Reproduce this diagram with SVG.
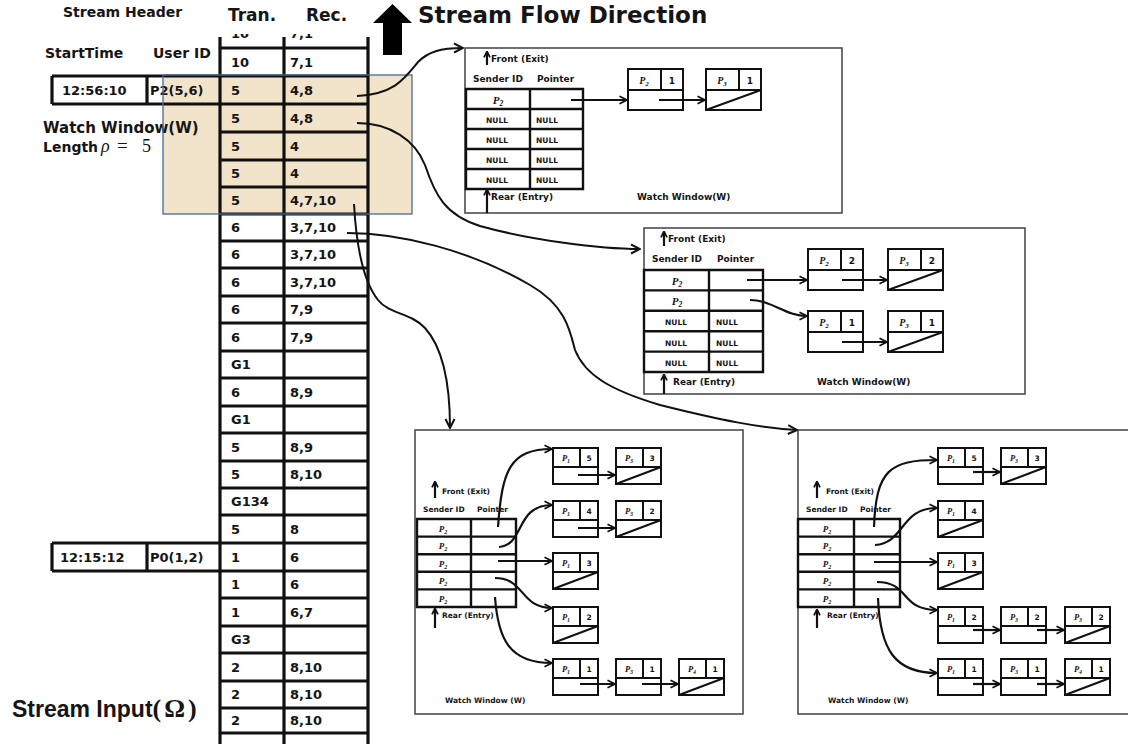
<svg xmlns="http://www.w3.org/2000/svg" width="1128" height="744" viewBox="0 0 1128 744">
<defs>
<style>
text{font-family:"DejaVu Sans","Liberation Sans",sans-serif;font-weight:bold;fill:#151515}
.c{font-size:13px}
.pl{font-size:9px}
.ps{font-size:7.5px}
.nl{font-size:7.5px}
.pm{font-family:"Liberation Serif",serif;font-style:italic;font-weight:bold}
.tl{stroke:#111;stroke-width:3.2;fill:none}
.pan{fill:#fff;stroke:#4d4d4d;stroke-width:1.6}
.tb{stroke:#111;stroke-width:2.4;fill:none}
.nd{fill:#fff;stroke:#111;stroke-width:2}
.ndl{fill:none;stroke:#111;stroke-width:2}
.cn{fill:none;stroke:#111;stroke-width:2}
.pa{fill:none;stroke:#111;stroke-width:2.2}
</style>
<marker id="am" viewBox="0 0 12 12" refX="11" refY="6" markerWidth="12" markerHeight="12" markerUnits="userSpaceOnUse" orient="auto"><path d="M2,1.5 L11,6 L2,10.5" fill="none" stroke="#111" stroke-width="2"/></marker>
<marker id="ap" viewBox="0 0 12 12" refX="11" refY="6" markerWidth="10" markerHeight="10" markerUnits="userSpaceOnUse" orient="auto"><path d="M2,1.5 L11,6 L2,10.5" fill="none" stroke="#111" stroke-width="2.2"/></marker>
<marker id="au" viewBox="0 0 12 12" refX="10" refY="6" markerWidth="8" markerHeight="8" markerUnits="userSpaceOnUse" orient="auto"><path d="M2,1.5 L11,6 L2,10.5" fill="none" stroke="#111" stroke-width="2.6"/></marker>
<g id="nL"><rect class="nd" width="55" height="41"/><path class="ndl" d="M0,21H55M33,0V21"/></g>
<g id="nLx"><use href="#nL"/><path class="ndl" d="M0,41L55,21"/></g>
<g id="nS"><rect class="nd" width="45" height="36"/><path class="ndl" d="M0,19H45M27,0V19"/></g>
<g id="nSx"><use href="#nS"/><path class="ndl" d="M0,36L45,19"/></g>
<clipPath id="topclip"><rect x="220" y="34" width="150" height="14"/></clipPath>
</defs>
<rect width="1128" height="744" fill="#fff"/>
<rect id="watch-fill" x="163" y="75" width="249" height="139" fill="#f2e4cb"/>

<!-- headers -->
<g id="headers">
<text x="63" y="17" style="font-size:14px">Stream Header</text>
<text x="228" y="21" style="font-size:17px">Tran.</text>
<text x="306" y="21" style="font-size:17px">Rec.</text>
<path d="M392.5,4 L412,23 L402,23 L402,55 L383,55 L383,23 L373,23 Z" fill="#000"/>
<text x="418" y="23" style="font-size:23px">Stream Flow Direction</text>
<text x="45" y="58" style="font-size:14px">StartTime</text>
<text x="153" y="58" style="font-size:14px">User ID</text>
<text x="43" y="133" style="font-size:15px">Watch Window(W)</text>
<text x="43" y="152" style="font-size:14px">Length<tspan x="101" style="font-family:'Liberation Serif',serif;font-style:italic;font-weight:normal;font-size:18px">ρ</tspan><tspan x="117" style="font-family:'Liberation Serif',serif;font-weight:normal;font-size:19px">=</tspan><tspan x="142" style="font-family:'Liberation Serif',serif;font-weight:normal;font-size:18px">5</tspan></text>
<text x="12" y="717" style="font-family:'Liberation Sans',sans-serif;font-size:23px">Stream Input<tspan style="font-family:'Liberation Serif',serif;font-size:26px;letter-spacing:3px">(Ω)</tspan></text>
</g>

<!-- stream table -->
<g id="stream">
<path class="tl" d="M220,37V744M284,37V744M368,37V744
M220,48H368M220,76H368M220,104H368M220,132H368M220,160H368M220,187H368M220,214H368M220,241H368M220,268H368M220,296H368M220,323H368M220,351H368M220,378H368M220,406H368M220,433H368M220,461H368M220,488H368M220,515H368M220,543H368M220,571H368M220,598H368M220,626H368M220,653H368M220,681H368M220,708H368M220,733H368"/>
<g clip-path="url(#topclip)"><text class="c" x="231" y="38">10</text><text class="c" x="290" y="38">7,1</text></g>
<text class="c" x="231" y="66.7">10</text><text class="c" x="290" y="66.7">7,1</text>
<text class="c" x="231" y="94.7">5</text><text class="c" x="290" y="94.7">4,8</text>
<text class="c" x="231" y="122.7">5</text><text class="c" x="290" y="122.7">4,8</text>
<text class="c" x="231" y="150.7">5</text><text class="c" x="290" y="150.7">4</text>
<text class="c" x="231" y="178.2">5</text><text class="c" x="290" y="178.2">4</text>
<text class="c" x="231" y="205.2">5</text><text class="c" x="290" y="205.2">4,7,10</text>
<text class="c" x="231" y="232.2">6</text><text class="c" x="290" y="232.2">3,7,10</text>
<text class="c" x="231" y="259.2">6</text><text class="c" x="290" y="259.2">3,7,10</text>
<text class="c" x="231" y="286.7">6</text><text class="c" x="290" y="286.7">3,7,10</text>
<text class="c" x="231" y="314.2">6</text><text class="c" x="290" y="314.2">7,9</text>
<text class="c" x="231" y="341.7">6</text><text class="c" x="290" y="341.7">7,9</text>
<text class="c" x="231" y="369.2">G1</text>
<text class="c" x="231" y="396.7">6</text><text class="c" x="290" y="396.7">8,9</text>
<text class="c" x="231" y="424.2">G1</text>
<text class="c" x="231" y="451.7">5</text><text class="c" x="290" y="451.7">8,9</text>
<text class="c" x="231" y="479.2">5</text><text class="c" x="290" y="479.2">8,10</text>
<text class="c" x="231" y="506.2">G134</text>
<text class="c" x="231" y="533.7">5</text><text class="c" x="290" y="533.7">8</text>
<text class="c" x="231" y="561.7">1</text><text class="c" x="290" y="561.7">6</text>
<text class="c" x="231" y="589.2">1</text><text class="c" x="290" y="589.2">6</text>
<text class="c" x="231" y="616.7">1</text><text class="c" x="290" y="616.7">6,7</text>
<text class="c" x="231" y="644.2">G3</text>
<text class="c" x="231" y="671.7">2</text><text class="c" x="290" y="671.7">8,10</text>
<text class="c" x="231" y="699.2">2</text><text class="c" x="290" y="699.2">8,10</text>
<text class="c" x="231" y="725.2">2</text><text class="c" x="290" y="725.2">8,10</text>
</g>
<g id="header-P2">
<path class="tl" d="M52,76H220M52,104H220M52,76V104M147,76V104"/>
<text class="c" x="62" y="94.7">12:56:10</text>
<text class="c" x="150" y="94.7">P2(5,6)</text>
</g>
<g id="header-P0">
<path class="tl" d="M52,543H220M52,571H220M52,543V571M147,543V571"/>
<text class="c" x="60" y="561.7">12:15:12</text>
<text class="c" x="150" y="561.7">P0(1,2)</text>
</g>
<rect id="watch-window" x="163" y="75" width="249" height="139" fill="none" stroke="#4a6a94" stroke-width="1.3"/>

<!-- panel 1 -->
<g id="panel1">
<rect class="pan" x="465" y="48" width="377" height="165"/>
<text class="pl" x="491" y="62">Front (Exit)</text>
<text class="pl" x="473" y="82">Sender ID</text>
<text class="pl" x="537" y="82">Pointer</text>
<path class="tb" d="M466,89H583V189H466Z M530,89V189 M466,109H583 M466,129H583 M466,149H583 M466,169H583"/>
<text class="pm" x="498" y="103.5" text-anchor="middle" style="font-size:11px">P<tspan style="font-size:7.5px" dy="2">2</tspan></text>
<text class="nl" x="497" y="122.5" text-anchor="middle">NULL</text><text class="nl" x="547" y="122.5" text-anchor="middle">NULL</text>
<text class="nl" x="497" y="142.5" text-anchor="middle">NULL</text><text class="nl" x="547" y="142.5" text-anchor="middle">NULL</text>
<text class="nl" x="497" y="162.5" text-anchor="middle">NULL</text><text class="nl" x="547" y="162.5" text-anchor="middle">NULL</text>
<text class="nl" x="497" y="182.5" text-anchor="middle">NULL</text><text class="nl" x="547" y="182.5" text-anchor="middle">NULL</text>
<text class="pl" x="491" y="200">Rear (Entry)</text>
<text class="pl" x="637" y="200">Watch Window(W)</text>
</g>
<g id="p1-n1"><use href="#nL" x="628" y="69"/><text class="pm" x="644" y="84" text-anchor="middle" style="font-size:10px">P<tspan style="font-size:7px" dy="2">2</tspan></text><text x="672" y="84" text-anchor="middle" style="font-size:9px">1</text></g>
<g id="p1-n2"><use href="#nLx" x="706" y="69"/><text class="pm" x="722" y="84" text-anchor="middle" style="font-size:10px">P<tspan style="font-size:7px" dy="2">3</tspan></text><text x="750" y="84" text-anchor="middle" style="font-size:9px">1</text></g>

<!-- panel 2 -->
<g id="panel2">
<rect class="pan" x="644" y="228" width="381" height="166"/>
<text class="pl" x="668" y="242">Front (Exit)</text>
<text class="pl" x="652" y="262">Sender ID</text>
<text class="pl" x="717" y="262">Pointer</text>
<path class="tb" d="M644,270H763V372H644Z M709,270V372 M644,290.4H763 M644,310.8H763 M644,331.2H763 M644,351.6H763"/>
<text class="pm" x="677" y="284.5" text-anchor="middle" style="font-size:11px">P<tspan style="font-size:7.5px" dy="2">2</tspan></text>
<text class="pm" x="677" y="305" text-anchor="middle" style="font-size:11px">P<tspan style="font-size:7.5px" dy="2">2</tspan></text>
<text class="nl" x="676" y="325.3" text-anchor="middle">NULL</text><text class="nl" x="727" y="325.3" text-anchor="middle">NULL</text>
<text class="nl" x="676" y="345.7" text-anchor="middle">NULL</text><text class="nl" x="727" y="345.7" text-anchor="middle">NULL</text>
<text class="nl" x="676" y="366.1" text-anchor="middle">NULL</text><text class="nl" x="727" y="366.1" text-anchor="middle">NULL</text>
<text class="pl" x="673" y="385">Rear (Entry)</text>
<text class="pl" x="817" y="385">Watch Window(W)</text>
</g>
<g id="p2-a1"><use href="#nL" x="808" y="249"/><text class="pm" x="824" y="264" text-anchor="middle" style="font-size:10px">P<tspan style="font-size:7px" dy="2">2</tspan></text><text x="852" y="264" text-anchor="middle" style="font-size:9px">2</text></g>
<g id="p2-a2"><use href="#nLx" x="888" y="249"/><text class="pm" x="904" y="264" text-anchor="middle" style="font-size:10px">P<tspan style="font-size:7px" dy="2">3</tspan></text><text x="932" y="264" text-anchor="middle" style="font-size:9px">2</text></g>
<g id="p2-b1"><use href="#nL" x="808" y="311"/><text class="pm" x="824" y="326" text-anchor="middle" style="font-size:10px">P<tspan style="font-size:7px" dy="2">2</tspan></text><text x="852" y="326" text-anchor="middle" style="font-size:9px">1</text></g>
<g id="p2-b2"><use href="#nLx" x="888" y="311"/><text class="pm" x="904" y="326" text-anchor="middle" style="font-size:10px">P<tspan style="font-size:7px" dy="2">3</tspan></text><text x="932" y="326" text-anchor="middle" style="font-size:9px">1</text></g>

<!-- panel 3 -->
<g id="panel3">
<rect class="pan" x="415" y="430" width="328" height="284"/>
<text class="ps" x="442" y="494">Front (Exit)</text>
<text class="ps" x="423" y="512">Sender ID</text>
<text class="ps" x="477" y="512">Pointer</text>
<path class="tb" d="M417,519H516V607H417Z M471,519V607 M417,536.6H516 M417,554.2H516 M417,571.8H516 M417,589.4H516"/>
<text class="pm" x="443" y="531.5" text-anchor="middle" style="font-size:9px">P<tspan style="font-size:6px" dy="2">2</tspan></text>
<text class="pm" x="443" y="549" text-anchor="middle" style="font-size:9px">P<tspan style="font-size:6px" dy="2">2</tspan></text>
<text class="pm" x="443" y="566.5" text-anchor="middle" style="font-size:9px">P<tspan style="font-size:6px" dy="2">2</tspan></text>
<text class="pm" x="443" y="584" text-anchor="middle" style="font-size:9px">P<tspan style="font-size:6px" dy="2">2</tspan></text>
<text class="pm" x="443" y="601.5" text-anchor="middle" style="font-size:9px">P<tspan style="font-size:6px" dy="2">2</tspan></text>
<text class="ps" x="442" y="618">Rear (Entry)</text>
<text class="ps" x="445" y="703">Watch Window (W)</text>
</g>
<g id="p3-a1"><use href="#nS" x="553" y="448"/><text class="pm" x="566" y="461" text-anchor="middle" style="font-size:8.5px">P<tspan style="font-size:6px" dy="2">1</tspan></text><text x="589" y="461" text-anchor="middle" style="font-size:7.5px">5</text></g>
<g id="p3-a2"><use href="#nSx" x="616" y="448"/><text class="pm" x="629" y="461" text-anchor="middle" style="font-size:8.5px">P<tspan style="font-size:6px" dy="2">3</tspan></text><text x="652" y="461" text-anchor="middle" style="font-size:7.5px">3</text></g>
<g id="p3-b1"><use href="#nS" x="553" y="501"/><text class="pm" x="566" y="514" text-anchor="middle" style="font-size:8.5px">P<tspan style="font-size:6px" dy="2">1</tspan></text><text x="589" y="514" text-anchor="middle" style="font-size:7.5px">4</text></g>
<g id="p3-b2"><use href="#nSx" x="616" y="501"/><text class="pm" x="629" y="514" text-anchor="middle" style="font-size:8.5px">P<tspan style="font-size:6px" dy="2">3</tspan></text><text x="652" y="514" text-anchor="middle" style="font-size:7.5px">2</text></g>
<g id="p3-c1"><use href="#nSx" x="553" y="553"/><text class="pm" x="566" y="566" text-anchor="middle" style="font-size:8.5px">P<tspan style="font-size:6px" dy="2">1</tspan></text><text x="589" y="566" text-anchor="middle" style="font-size:7.5px">3</text></g>
<g id="p3-d1"><use href="#nSx" x="553" y="607"/><text class="pm" x="566" y="620" text-anchor="middle" style="font-size:8.5px">P<tspan style="font-size:6px" dy="2">1</tspan></text><text x="589" y="620" text-anchor="middle" style="font-size:7.5px">2</text></g>
<g id="p3-e1"><use href="#nS" x="553" y="659"/><text class="pm" x="566" y="672" text-anchor="middle" style="font-size:8.5px">P<tspan style="font-size:6px" dy="2">1</tspan></text><text x="589" y="672" text-anchor="middle" style="font-size:7.5px">1</text></g>
<g id="p3-e2"><use href="#nS" x="616" y="659"/><text class="pm" x="629" y="672" text-anchor="middle" style="font-size:8.5px">P<tspan style="font-size:6px" dy="2">3</tspan></text><text x="652" y="672" text-anchor="middle" style="font-size:7.5px">1</text></g>
<g id="p3-e3"><use href="#nSx" x="679" y="659"/><text class="pm" x="692" y="672" text-anchor="middle" style="font-size:8.5px">P<tspan style="font-size:6px" dy="2">4</tspan></text><text x="715" y="672" text-anchor="middle" style="font-size:7.5px">1</text></g>

<!-- panel 4 -->
<g id="panel4">
<rect class="pan" x="798" y="430" width="340" height="284"/>
<text class="ps" x="826" y="494">Front (Exit)</text>
<text class="ps" x="806" y="512">Sender ID</text>
<text class="ps" x="860" y="512">Pointer</text>
<path class="tb" d="M798,519H900V607H798Z M854,519V607 M798,536.6H900 M798,554.2H900 M798,571.8H900 M798,589.4H900"/>
<text class="pm" x="827" y="531.5" text-anchor="middle" style="font-size:9px">P<tspan style="font-size:6px" dy="2">2</tspan></text>
<text class="pm" x="827" y="549" text-anchor="middle" style="font-size:9px">P<tspan style="font-size:6px" dy="2">2</tspan></text>
<text class="pm" x="827" y="566.5" text-anchor="middle" style="font-size:9px">P<tspan style="font-size:6px" dy="2">2</tspan></text>
<text class="pm" x="827" y="584" text-anchor="middle" style="font-size:9px">P<tspan style="font-size:6px" dy="2">2</tspan></text>
<text class="pm" x="827" y="601.5" text-anchor="middle" style="font-size:9px">P<tspan style="font-size:6px" dy="2">2</tspan></text>
<text class="ps" x="827" y="618">Rear (Entry)</text>
<text class="ps" x="828" y="703">Watch Window (W)</text>
</g>
<g id="p4-a1"><use href="#nS" x="938" y="448"/><text class="pm" x="951" y="461" text-anchor="middle" style="font-size:8.5px">P<tspan style="font-size:6px" dy="2">1</tspan></text><text x="974" y="461" text-anchor="middle" style="font-size:7.5px">5</text></g>
<g id="p4-a2"><use href="#nSx" x="1001" y="448"/><text class="pm" x="1014" y="461" text-anchor="middle" style="font-size:8.5px">P<tspan style="font-size:6px" dy="2">3</tspan></text><text x="1037" y="461" text-anchor="middle" style="font-size:7.5px">3</text></g>
<g id="p4-b1"><use href="#nSx" x="938" y="501"/><text class="pm" x="951" y="514" text-anchor="middle" style="font-size:8.5px">P<tspan style="font-size:6px" dy="2">1</tspan></text><text x="974" y="514" text-anchor="middle" style="font-size:7.5px">4</text></g>
<g id="p4-c1"><use href="#nSx" x="938" y="553"/><text class="pm" x="951" y="566" text-anchor="middle" style="font-size:8.5px">P<tspan style="font-size:6px" dy="2">1</tspan></text><text x="974" y="566" text-anchor="middle" style="font-size:7.5px">3</text></g>
<g id="p4-d1"><use href="#nS" x="938" y="607"/><text class="pm" x="951" y="620" text-anchor="middle" style="font-size:8.5px">P<tspan style="font-size:6px" dy="2">1</tspan></text><text x="974" y="620" text-anchor="middle" style="font-size:7.5px">2</text></g>
<g id="p4-d2"><use href="#nS" x="1001" y="607"/><text class="pm" x="1014" y="620" text-anchor="middle" style="font-size:8.5px">P<tspan style="font-size:6px" dy="2">3</tspan></text><text x="1037" y="620" text-anchor="middle" style="font-size:7.5px">2</text></g>
<g id="p4-d3"><use href="#nSx" x="1065" y="607"/><text class="pm" x="1078" y="620" text-anchor="middle" style="font-size:8.5px">P<tspan style="font-size:6px" dy="2">3</tspan></text><text x="1101" y="620" text-anchor="middle" style="font-size:7.5px">2</text></g>
<g id="p4-e1"><use href="#nS" x="938" y="659"/><text class="pm" x="951" y="672" text-anchor="middle" style="font-size:8.5px">P<tspan style="font-size:6px" dy="2">1</tspan></text><text x="974" y="672" text-anchor="middle" style="font-size:7.5px">1</text></g>
<g id="p4-e2"><use href="#nS" x="1001" y="659"/><text class="pm" x="1014" y="672" text-anchor="middle" style="font-size:8.5px">P<tspan style="font-size:6px" dy="2">3</tspan></text><text x="1037" y="672" text-anchor="middle" style="font-size:7.5px">1</text></g>
<g id="p4-e3"><use href="#nSx" x="1065" y="659"/><text class="pm" x="1078" y="672" text-anchor="middle" style="font-size:8.5px">P<tspan style="font-size:6px" dy="2">4</tspan></text><text x="1101" y="672" text-anchor="middle" style="font-size:7.5px">1</text></g>

<!-- connectors -->
<g id="connectors">
<path class="cn" marker-end="url(#am)" d="M357,96 C395,94 405,78 418,62 C428,52 440,48 463,48"/>
<path class="cn" marker-end="url(#am)" d="M357,123 C390,123 415,140 425,165 C435,195 445,215 480,226 C530,240 600,249 640,249"/>
<path class="cn" marker-end="url(#am)" d="M354,204 C356,240 362,280 378,300 C390,315 410,312 425,328 C445,350 450,390 450,428"/>
<path class="cn" marker-end="url(#am)" d="M347,233 C400,233 470,250 530,285 C565,305 570,330 575,350 C585,375 610,390 660,405 C720,420 760,428 797,430"/>
<path class="pa" marker-end="url(#au)" d="M487,65V52"/>
<path class="pa" marker-end="url(#au)" d="M487,213V190"/>
<path class="pa" marker-end="url(#au)" d="M664,246V232"/>
<path class="pa" marker-end="url(#au)" d="M664,394V375"/>
<path class="pa" marker-end="url(#au)" d="M435,498V482"/>
<path class="pa" marker-end="url(#au)" d="M435,628V609"/>
<path class="pa" marker-end="url(#au)" d="M817,498V482"/>
<path class="pa" marker-end="url(#au)" d="M817,628V610"/>
<path class="pa" marker-end="url(#ap)" d="M571,100H627"/>
<path class="pa" marker-end="url(#ap)" d="M659,100H705"/>
<path class="pa" marker-end="url(#ap)" d="M747,280H807"/>
<path class="pa" marker-end="url(#ap)" d="M842,280H887"/>
<path class="pa" marker-end="url(#ap)" d="M750,300 C772,300 785,316 807,316"/>
<path class="pa" marker-end="url(#ap)" d="M842,342H887"/>
<path class="pa" marker-end="url(#ap)" d="M498,527 C502,470 510,449 552,449"/>
<path class="pa" marker-end="url(#ap)" d="M499,547 C525,545 515,505 552,505"/>
<path class="pa" marker-end="url(#ap)" d="M498,561H552"/>
<path class="pa" marker-end="url(#ap)" d="M495,578 C525,578 520,608 552,608"/>
<path class="pa" marker-end="url(#ap)" d="M495,597 C498,640 510,663 552,663"/>
<path class="pa" marker-end="url(#ap)" d="M578,475H615"/>
<path class="pa" marker-end="url(#ap)" d="M578,528H615"/>
<path class="pa" marker-end="url(#ap)" d="M580,684H615"/>
<path class="pa" marker-end="url(#ap)" d="M642,684H678"/>
<path class="pa" marker-end="url(#ap)" d="M874,527 C876,470 890,460 937,460"/>
<path class="pa" marker-end="url(#ap)" d="M875,545 C905,543 900,508 937,508"/>
<path class="pa" marker-end="url(#ap)" d="M874,562H937"/>
<path class="pa" marker-end="url(#ap)" d="M877,582 C910,582 900,610 937,610"/>
<path class="pa" marker-end="url(#ap)" d="M878,598 C880,650 895,673 937,673"/>
<path class="pa" marker-end="url(#ap)" d="M973,472H1000"/>
<path class="pa" marker-end="url(#ap)" d="M973,630H1000"/>
<path class="pa" marker-end="url(#ap)" d="M1037,630H1064"/>
<path class="pa" marker-end="url(#ap)" d="M973,684H1000"/>
<path class="pa" marker-end="url(#ap)" d="M1037,684H1064"/>
</g>
</svg>
